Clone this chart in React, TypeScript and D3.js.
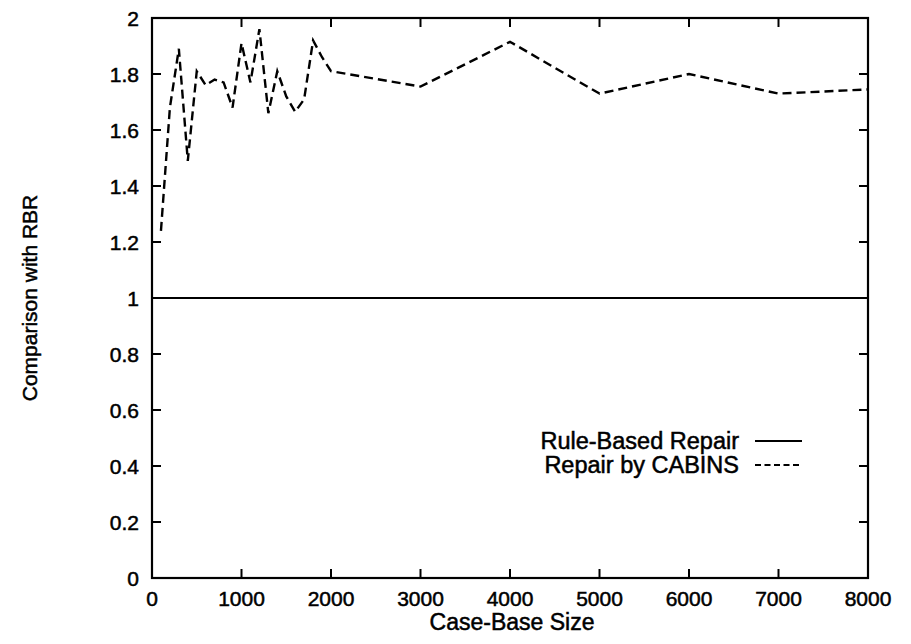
import React, { useEffect, useRef } from 'react';
import * as d3 from 'd3';

// case-base sizes and CABINS repair quality relative to rule-based repair
const caseBaseSizes = [
  100, 200, 300, 400, 500, 600, 700, 800, 900, 1000,
  1100, 1200, 1300, 1400, 1500, 1600, 1700, 1800, 1900, 2000,
  3000, 4000, 5000, 6000, 7000, 8000,
];
const cabinsValues = [
  1.24, 1.68, 1.89, 1.49, 1.81, 1.76, 1.78, 1.77, 1.68, 1.91,
  1.77, 1.96, 1.66, 1.81, 1.72, 1.665, 1.71, 1.92, 1.86, 1.81,
  1.755, 1.915, 1.73, 1.8, 1.73, 1.745,
];
const rbrValue = 1;

const xTicks = [0, 1000, 2000, 3000, 4000, 5000, 6000, 7000, 8000];
const yTicks = [0, 0.2, 0.4, 0.6, 0.8, 1, 1.2, 1.4, 1.6, 1.8, 2];
const legendLabels = ['Rule-Based Repair', 'Repair by CABINS'];

const width = 911;
const height = 644;

const App: React.FC = () => {
  const svgRef = useRef<SVGSVGElement>(null);

  useEffect(() => {
    if (!svgRef.current) return;

    const svg = d3.select(svgRef.current);
    svg.selectAll('*').remove();

    const left = 152, right = 868, top = 18, bottom = 578;
    const font = '"Liberation Sans", Arial, Helvetica, sans-serif';

    const x = d3.scaleLinear().domain([0, 8000]).range([left, right]);
    const y = d3.scaleLinear().domain([0, 2]).range([bottom, top]);
    const tickLen = 9;

    // scanned look: slightly heavier glyphs
    const label = (sel: d3.Selection<SVGTextElement, unknown, null, undefined>, size: number) =>
      sel.style('font-family', font)
        .style('font-size', `${size}px`)
        .attr('fill', '#000')
        .attr('stroke', '#000')
        .attr('stroke-width', 0.5);

    // frame
    svg.append('rect')
      .attr('x', left)
      .attr('y', top)
      .attr('width', right - left)
      .attr('height', bottom - top)
      .attr('fill', 'none')
      .attr('stroke', '#000')
      .attr('stroke-width', 2.2);

    // mirrored inward ticks
    xTicks.forEach(t => {
      svg.append('line')
        .attr('x1', x(t)).attr('x2', x(t))
        .attr('y1', bottom).attr('y2', bottom - tickLen)
        .attr('stroke', '#000').attr('stroke-width', 2);
      svg.append('line')
        .attr('x1', x(t)).attr('x2', x(t))
        .attr('y1', top).attr('y2', top + tickLen)
        .attr('stroke', '#000').attr('stroke-width', 2);
      label(svg.append('text')
        .attr('x', x(t))
        .attr('y', 606)
        .attr('text-anchor', 'middle'), 21)
        .text(t);
    });

    yTicks.forEach(t => {
      svg.append('line')
        .attr('x1', left).attr('x2', left + tickLen)
        .attr('y1', y(t)).attr('y2', y(t))
        .attr('stroke', '#000').attr('stroke-width', 2);
      svg.append('line')
        .attr('x1', right).attr('x2', right - tickLen)
        .attr('y1', y(t)).attr('y2', y(t))
        .attr('stroke', '#000').attr('stroke-width', 2);
      label(svg.append('text')
        .attr('x', 139)
        .attr('y', y(t) + 7.5)
        .attr('text-anchor', 'end'), 21)
        .text(d3.format('~g')(t));
    });

    // axis titles
    label(svg.append('text')
      .attr('x', 512)
      .attr('y', 630)
      .attr('text-anchor', 'middle'), 23)
      .text('Case-Base Size');

    label(svg.append('text')
      .attr('transform', `translate(37,${(top + bottom) / 2}) rotate(-90)`)
      .attr('text-anchor', 'middle'), 21)
      .text('Comparison with RBR');

    // rule-based baseline
    svg.append('line')
      .attr('x1', x(0)).attr('x2', x(8000))
      .attr('y1', y(rbrValue)).attr('y2', y(rbrValue))
      .attr('stroke', '#000').attr('stroke-width', 2);

    // CABINS series
    const line = d3.line<number>()
      .x((_, i) => x(caseBaseSizes[i]))
      .y(d => y(d));

    svg.append('path')
      .datum(cabinsValues)
      .attr('d', line)
      .attr('fill', 'none')
      .attr('stroke', '#000')
      .attr('stroke-width', 2.4)
      .attr('stroke-dasharray', '9,5');

    // legend
    const legendY = [441, 465];
    legendLabels.forEach((text, i) => {
      label(svg.append('text')
        .attr('x', 739)
        .attr('y', legendY[i] + 8)
        .attr('text-anchor', 'end'), 23.5)
        .text(text);
      svg.append('line')
        .attr('x1', 755).attr('x2', 802)
        .attr('y1', legendY[i]).attr('y2', legendY[i])
        .attr('stroke', '#000')
        .attr('stroke-width', 2)
        .attr('stroke-dasharray', i === 0 ? null : '6,3.5');
    });
  }, []);

  return (
    <svg
      ref={svgRef}
      width={width}
      height={height}
      style={{ position: 'absolute', left: 0, top: 0, background: '#fff' }}
    />
  );
};

export default App;
